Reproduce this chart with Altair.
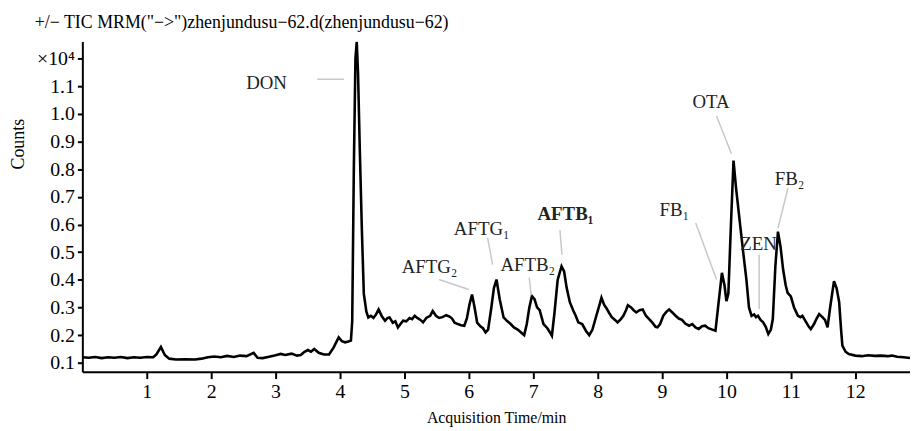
import altair as alt
import pandas as pd

# ---- data ----
time_min = [0.0, 0.1, 0.2, 0.3, 0.4, 0.5, 0.6, 0.7, 0.8, 0.9, 1.0, 1.1, 1.15, 1.22, 1.28, 1.35, 1.45, 1.6, 1.75, 1.85,
            1.95, 2.05, 2.15, 2.25, 2.35, 2.45, 2.55, 2.66, 2.72, 2.8, 2.9, 3.0, 3.08, 3.15, 3.25, 3.33, 3.39, 3.45, 3.5, 3.55,
            3.6, 3.67, 3.75, 3.83, 3.9, 3.98, 4.03, 4.08, 4.13, 4.17, 4.19, 4.215, 4.24, 4.26, 4.28, 4.31, 4.34, 4.37, 4.41, 4.44,
            4.48, 4.52, 4.56, 4.6, 4.65, 4.7, 4.74, 4.77, 4.82, 4.86, 4.9, 4.94, 4.98, 5.03, 5.08, 5.12, 5.16, 5.2, 5.25, 5.29,
            5.34, 5.4, 5.44, 5.49, 5.54, 5.59, 5.65, 5.7, 5.74, 5.78, 5.83, 5.88, 5.93, 5.97, 6.01, 6.05, 6.09, 6.13, 6.18, 6.22,
            6.26, 6.3, 6.35, 6.39, 6.43, 6.48, 6.54, 6.6, 6.65, 6.7, 6.76, 6.82, 6.86, 6.9, 6.94, 6.98, 7.02, 7.06, 7.1, 7.16,
            7.22, 7.26, 7.29, 7.33, 7.38, 7.44, 7.48, 7.52, 7.57, 7.62, 7.66, 7.7, 7.76, 7.82, 7.87, 7.92, 7.98, 8.03, 8.06, 8.1,
            8.13, 8.18, 8.22, 8.27, 8.31, 8.36, 8.4, 8.44, 8.47, 8.52, 8.56, 8.6, 8.65, 8.7, 8.75, 8.8, 8.85, 8.9, 8.93, 8.97,
            9.02, 9.07, 9.11, 9.16, 9.21, 9.26, 9.31, 9.36, 9.42, 9.47, 9.52, 9.57, 9.62, 9.67, 9.72, 9.78, 9.83, 9.87, 9.93, 9.97,
            10.0, 10.03, 10.07, 10.11, 10.15, 10.21, 10.26, 10.31, 10.35, 10.39, 10.43, 10.46, 10.49, 10.53, 10.57, 10.61, 10.65, 10.69, 10.72, 10.76,
            10.8, 10.84, 10.88, 10.92, 10.95, 11.0, 11.05, 11.11, 11.15, 11.18, 11.23, 11.28, 11.31, 11.36, 11.4, 11.44, 11.49, 11.53, 11.57, 11.61,
            11.67, 11.71, 11.75, 11.78, 11.8, 11.85, 11.9, 12.0, 12.1, 12.2, 12.3, 12.4, 12.5, 12.57, 12.65, 12.75, 12.85]
counts = [0.12, 0.118, 0.121, 0.117, 0.12, 0.118, 0.121, 0.117, 0.12, 0.118, 0.121, 0.12, 0.13, 0.157, 0.128, 0.115, 0.112, 0.113, 0.112, 0.115,
          0.12, 0.123, 0.12, 0.125, 0.121, 0.126, 0.124, 0.136, 0.118, 0.117, 0.122, 0.127, 0.132, 0.128, 0.133, 0.126, 0.128, 0.14, 0.146, 0.14,
          0.15, 0.136, 0.13, 0.13, 0.155, 0.192, 0.178, 0.174, 0.177, 0.18, 0.25, 0.8, 1.2, 1.26, 1.15, 0.85, 0.58, 0.35, 0.285, 0.264,
          0.27, 0.262, 0.275, 0.293, 0.268, 0.252, 0.262, 0.264, 0.245, 0.25, 0.228, 0.24, 0.252, 0.25, 0.262, 0.258, 0.27, 0.262, 0.255, 0.246,
          0.262, 0.27, 0.287, 0.27, 0.262, 0.265, 0.272, 0.267, 0.26, 0.245, 0.24, 0.236, 0.234, 0.26, 0.31, 0.347, 0.3, 0.245, 0.232, 0.225,
          0.21, 0.22, 0.3, 0.37, 0.401, 0.33, 0.264, 0.25, 0.24, 0.228, 0.22, 0.208, 0.2, 0.24, 0.3, 0.341, 0.33, 0.3, 0.29, 0.24,
          0.225, 0.21, 0.198, 0.28, 0.4, 0.449, 0.43, 0.37, 0.318, 0.29, 0.27, 0.246, 0.24, 0.215, 0.2, 0.22, 0.27, 0.31, 0.335, 0.31,
          0.3, 0.28, 0.265, 0.255, 0.246, 0.258, 0.27, 0.29, 0.308, 0.3, 0.29, 0.282, 0.29, 0.293, 0.27, 0.258, 0.245, 0.23, 0.228, 0.24,
          0.27, 0.285, 0.293, 0.282, 0.27, 0.26, 0.255, 0.242, 0.234, 0.24, 0.228, 0.222, 0.232, 0.234, 0.225, 0.22, 0.216, 0.3, 0.425, 0.38,
          0.323, 0.35, 0.6, 0.831, 0.73, 0.604, 0.5, 0.401, 0.3, 0.27, 0.275, 0.265, 0.27, 0.255, 0.246, 0.23, 0.204, 0.22, 0.258, 0.45,
          0.574, 0.52, 0.437, 0.38, 0.353, 0.34, 0.3, 0.27, 0.265, 0.27, 0.25, 0.23, 0.222, 0.24, 0.26, 0.276, 0.265, 0.255, 0.228, 0.3,
          0.395, 0.37, 0.32, 0.22, 0.162, 0.14, 0.132, 0.126, 0.124, 0.127, 0.125, 0.126, 0.124, 0.126, 0.122, 0.12, 0.117]

# peak labels (anchor of text in data coordinates)
label_text = ["DON", "AFTG\u2082", "AFTG\u2081", "AFTB\u2082", "AFTB\u2081", "FB\u2081", "OTA", "ZEN", "FB\u2082"]
label_time = [2.86, 5.39, 6.2, 6.915, 7.5, 9.19, 9.76, 10.5, 10.98]
label_count = [1.089, 0.426, 0.562, 0.431, 0.616, 0.630, 1.020, 0.506, 0.742]
label_bold = [False, False, False, False, True, False, False, False, False]

# leader lines (data coordinates)
lead_t1 = [3.646, 5.538, 6.292, 6.938, 7.415, 9.523, 9.846, 10.508, 10.954]
lead_t2 = [4.062, 6.0, 6.369, 6.969, 7.446, 9.846, 10.077, 10.508, 10.8]
lead_c1 = [1.125, 0.401, 0.552, 0.408, 0.580, 0.605, 0.992, 0.491, 0.731]
lead_c2 = [1.125, 0.365, 0.455, 0.344, 0.491, 0.401, 0.856, 0.294, 0.587]

x_ticks = [1, 2, 3, 4, 5, 6, 7, 8, 9, 10, 11, 12]
y_ticks = [0.1, 0.2, 0.3, 0.4, 0.5, 0.6, 0.7, 0.8, 0.9, 1.0, 1.1, 1.2]

FONT = "Liberation Serif"

curve = pd.DataFrame({"t": time_min, "c": counts})
labels = pd.DataFrame({"t": label_time, "c": label_count, "txt": label_text, "bold": label_bold})
leads = pd.DataFrame({"t1": lead_t1, "t2": lead_t2, "c1": lead_c1, "c2": lead_c2})

xscale = alt.Scale(domain=[0, 12.85], nice=False, zero=False)
yscale = alt.Scale(domain=[0.068, 1.261], nice=False, zero=False)

xaxis = alt.Axis(values=x_ticks, format="d", title="Acquisition Time/min", grid=False, labelOverlap=False,
                 domainColor="black", domainWidth=2, tickColor="black", tickWidth=2, tickSize=7,
                 labelFont=FONT, labelFontSize=20, labelColor="black", labelPadding=3,
                 titleFont=FONT, titleFontSize=16, titleFontWeight="normal", titleColor="black", titlePadding=8)
yaxis = alt.Axis(values=y_ticks, title="Counts", grid=False, labelOverlap=False, labelBound=False,
                 labelExpr="datum.value > 1.15 ? '\u00d710\u2074' : format(datum.value, '.1f')",
                 domainColor="black", domainWidth=2, tickColor="black", tickWidth=2, tickSize=5,
                 labelFont=FONT, labelFontSize=20, labelColor="black", labelPadding=3,
                 titleFont=FONT, titleFontSize=18, titleFontWeight="normal", titleColor="black",
                 titleX=-64, titleY=103, titleAlign="center", titleBaseline="middle", titleAngle=270)

line = alt.Chart(curve).mark_line(color="black", strokeWidth=2.6, clip=True).encode(
    x=alt.X("t:Q", scale=xscale, axis=xaxis),
    y=alt.Y("c:Q", scale=yscale, axis=yaxis),
    order="t:Q",
)

rules = alt.Chart(leads).mark_rule(color="#c8c8c8", strokeWidth=1.5).encode(
    x=alt.X("t1:Q", scale=xscale, axis=xaxis), x2="t2:Q",
    y=alt.Y("c1:Q", scale=yscale, axis=yaxis), y2="c2:Q",
)

texts_normal = alt.Chart(labels).transform_filter("!datum.bold").mark_text(
    font=FONT, fontSize=19, color="#222222", align="center", baseline="alphabetic").encode(
    x=alt.X("t:Q", scale=xscale, axis=xaxis),
    y=alt.Y("c:Q", scale=yscale, axis=yaxis),
    text="txt:N",
)
texts_bold = alt.Chart(labels).transform_filter("datum.bold").mark_text(
    font=FONT, fontSize=19, fontWeight="bold", color="#222222", align="center", baseline="alphabetic").encode(
    x=alt.X("t:Q", scale=xscale, axis=xaxis),
    y=alt.Y("c:Q", scale=yscale, axis=yaxis),
    text="txt:N",
)

chart = alt.layer(line, rules, texts_normal, texts_bold).properties(
    width=835, height=333,
    autosize=alt.AutoSizeParams(type="none"),
    padding={"left": 75, "top": 32, "right": 0, "bottom": 58},
    title=alt.TitleParams("+/\u2212 TIC MRM(\"\u2212>\")zhenjundusu\u221262.d(zhenjundusu\u221262)",
                          anchor="start", frame="group", dx=-48, dy=20, offset=16, baseline="alphabetic",
                          font=FONT, fontSize=18, fontWeight="normal", color="black"),
).configure_view(stroke=None).configure_axis(labelOverlap=False)

chart.save("out.html", embed_options={"renderer": "svg", "actions": False})
